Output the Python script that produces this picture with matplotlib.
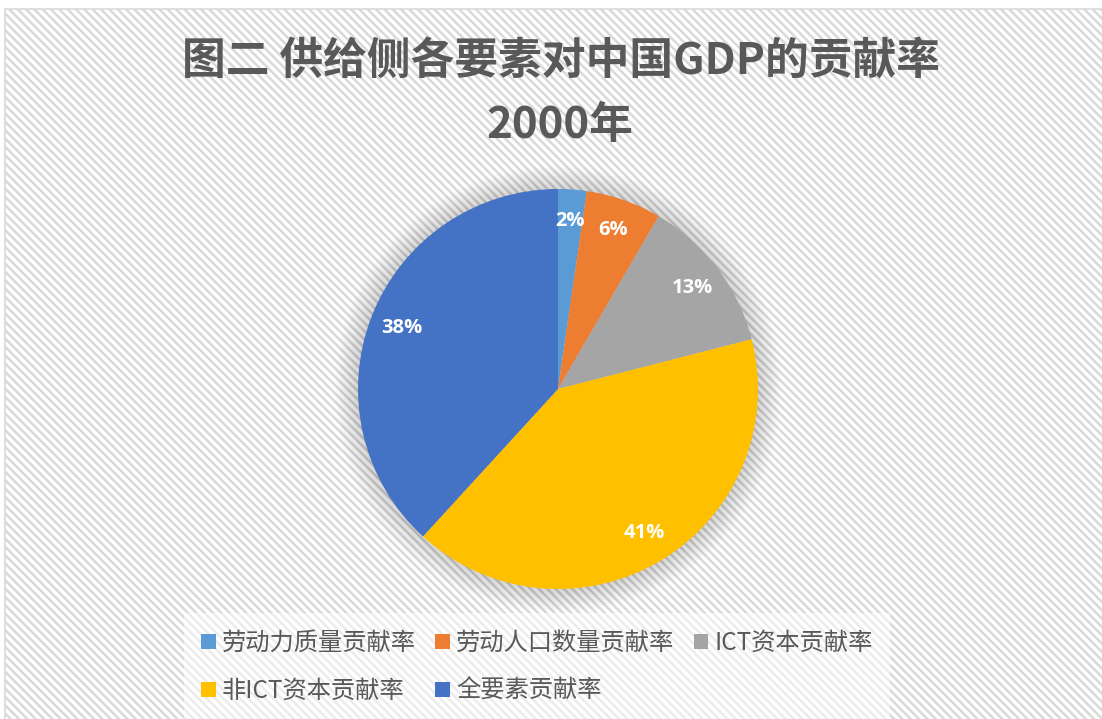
import matplotlib.pyplot as plt
from matplotlib.patches import Rectangle, Circle, Patch

plt.rcParams['font.family'] = ['Noto Sans CJK SC', 'DejaVu Sans']
plt.rcParams['hatch.color'] = '#F5F5F5'
plt.rcParams['hatch.linewidth'] = 1.8

# data (shares in %)
labels = ['劳动力质量贡献率', '劳动人口数量贡献率', 'ICT资本贡献率', '非ICT资本贡献率', '全要素贡献率']
shares = [2.3, 6.1, 12.6, 40.8, 38.2]
colors = ['#5B9BD5', '#ED7D31', '#A5A5A5', '#FFC000', '#4472C4']
title_lines = ['图二 供给侧各要素对中国GDP的贡献率', '2000年']

W, H = 1102, 719
fig = plt.figure(figsize=(W / 100, H / 100), dpi=100)

# chart area: white with faint diagonal stripes, thin grey border
bg = Rectangle((5 / W, -0.1), 1.1, 1.1 - 9 / H, transform=fig.transFigure,
               facecolor='white', edgecolor='#D9D9D9', lw=1.2,
               hatch='\\\\\\\\', zorder=0)
fig.add_artist(bg)

# pie: centre and radius in pixels
cx, cy, R = 558, 389, 200
ax = fig.add_axes([(cx - 1.25 * R) / W, (H - cy - 1.25 * R) / H,
                   2.5 * R / W, 2.5 * R / H])

wedges, texts, autotexts = ax.pie(
    shares, colors=colors, startangle=90, counterclock=False,
    autopct=lambda p: f'{p:.0f}%', pctdistance=0.84,
    wedgeprops=dict(linewidth=0),
    textprops=dict(color='white', fontsize=14.5, fontweight='bold',
                   family=['Open Sans', 'DejaVu Sans']))

# soft shadow around the pie
for k in range(14):
    ax.add_patch(Circle((0, 0), 1 + 0.009 * k, color='black', alpha=0.012,
                        lw=0, zorder=0))

fig.text(561 / W, 1 - 62 / H, title_lines[0], ha='center', va='center',
         fontsize=31.5, fontweight='bold', color='#595959')
fig.text(560 / W, 1 - 125 / H, title_lines[1], ha='center', va='center',
         fontsize=31.5, fontweight='bold', color='#595959')

# legend, row-major order like Excel
handles = [Patch(facecolor=c, edgecolor='none') for c in colors]
order = [0, 3, 1, 4, 2]
leg = fig.legend([handles[i] for i in order], [labels[i] for i in order],
                 ncol=3, loc='center', bbox_to_anchor=(537 / W, 1 - 667 / H),
                 fontsize=17.5, handlelength=0.6, handleheight=0.6,
                 handletextpad=0.25, columnspacing=0.8, labelspacing=0.9,
                 borderpad=0.7, fancybox=False, frameon=True)
for t in leg.get_texts():
    t.set_color('#595959')
leg.get_frame().set(facecolor='white', alpha=0.5, edgecolor='none')

fig.savefig('out.png', dpi=100)
